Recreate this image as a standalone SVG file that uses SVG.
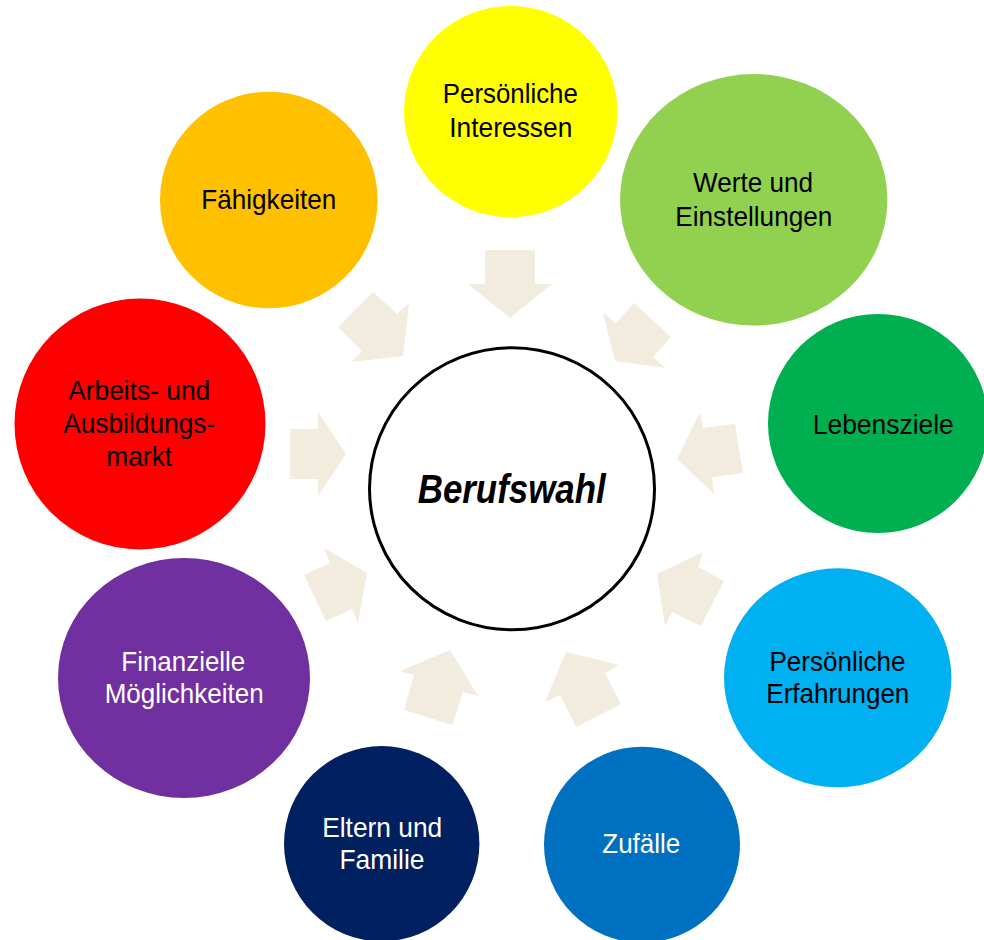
<svg xmlns="http://www.w3.org/2000/svg" width="984" height="940" viewBox="0 0 984 940">
<style>
.lbl{font-family:"Liberation Sans",Arial,sans-serif;font-size:28px;text-anchor:middle}
.dk{fill:#000}
.wt{fill:#fff}
.arr{fill:#F2ECDE}
</style>
<rect width="984" height="940" fill="#fff"/>
<g id="connectors">
<polygon class="arr" points="485,250 535,250 535,284 552,284 510,318 468,284 485,284"/>
<polygon class="arr" points="373,292 397,314 409,303 403,356 351,362 362,351 338,327"/>
<polygon class="arr" points="634,303 671,337 653,357 665,368 615,361 603,313 616,323"/>
<polygon class="arr" points="735,424 743,473 712,477 714,494 677,459 700,412 703,428"/>
<polygon class="arr" points="724,581 701,626 672,612 665,626 657,574 703,552 698,567"/>
<polygon class="arr" points="621,704 576,727 560,695 545,702 566,652 619,665 605,673"/>
<polygon class="arr" points="452,725 404,710 414,675 400,671 450,650 478,696 463,692"/>
<polygon class="arr" points="304,575 326,621 352,609 358,623 367,573 324,548 330,563"/>
<polygon class="arr" points="290,429 318,429 318,412 346,454 318,496 318,479 290,479"/>
</g>
<g id="berufswahl">
<ellipse cx="512" cy="488.7" rx="142.5" ry="141" fill="#fff" stroke="#000" stroke-width="3"/>
<text x="511.7" y="502.7" style="font-family:'Liberation Sans',Arial,sans-serif;font-size:41px;font-weight:bold;font-style:italic;text-anchor:middle" textLength="188" lengthAdjust="spacingAndGlyphs">Berufswahl</text>
</g>
<g id="interessen">
<ellipse cx="510.7" cy="111.7" rx="106.7" ry="105.7" fill="#FFFF00"/>
<text class="lbl dk" x="510.3" y="103.3" textLength="135" lengthAdjust="spacingAndGlyphs">Persönliche</text>
<text class="lbl dk" x="510.8" y="136.7" textLength="123" lengthAdjust="spacingAndGlyphs">Interessen</text>
</g>
<g id="werte">
<ellipse cx="753.7" cy="199.8" rx="133.7" ry="125.8" fill="#92D050"/>
<text class="lbl dk" x="753" y="192.3" textLength="120" lengthAdjust="spacingAndGlyphs">Werte und</text>
<text class="lbl dk" x="753.8" y="225.7" textLength="157" lengthAdjust="spacingAndGlyphs">Einstellungen</text>
</g>
<g id="lebensziele">
<ellipse cx="878" cy="423.5" rx="110" ry="109.5" fill="#00B050"/>
<text class="lbl dk" x="883.3" y="434.3" textLength="141" lengthAdjust="spacingAndGlyphs">Lebensziele</text>
</g>
<g id="erfahrungen">
<ellipse cx="837.7" cy="677.8" rx="113.7" ry="109.5" fill="#00B0F0"/>
<text class="lbl dk" x="837.5" y="671" textLength="136" lengthAdjust="spacingAndGlyphs">Persönliche</text>
<text class="lbl dk" x="837.8" y="703.3" textLength="143" lengthAdjust="spacingAndGlyphs">Erfahrungen</text>
</g>
<g id="zufaelle">
<ellipse cx="642" cy="844.7" rx="98" ry="98" fill="#0070C0"/>
<text class="lbl wt" x="641.3" y="853.3" textLength="78" lengthAdjust="spacingAndGlyphs">Zufälle</text>
</g>
<g id="eltern">
<ellipse cx="381.7" cy="843.7" rx="97.7" ry="97.7" fill="#002060"/>
<text class="lbl wt" x="382.2" y="837.3" textLength="120" lengthAdjust="spacingAndGlyphs">Eltern und</text>
<text class="lbl wt" x="382" y="869.3" textLength="85" lengthAdjust="spacingAndGlyphs">Familie</text>
</g>
<g id="finanzielle">
<ellipse cx="184" cy="678" rx="126" ry="120" fill="#7030A0"/>
<text class="lbl wt" x="183.3" y="671" textLength="124" lengthAdjust="spacingAndGlyphs">Finanzielle</text>
<text class="lbl wt" x="184.2" y="703.3" textLength="159" lengthAdjust="spacingAndGlyphs">Möglichkeiten</text>
</g>
<g id="arbeitsmarkt">
<ellipse cx="140" cy="424" rx="125.5" ry="125.5" fill="#FF0000"/>
<text class="lbl dk" x="139.2" y="400" textLength="142" lengthAdjust="spacingAndGlyphs">Arbeits- und</text>
<text class="lbl dk" x="139.2" y="433.3" textLength="152" lengthAdjust="spacingAndGlyphs">Ausbildungs-</text>
<text class="lbl dk" x="139.2" y="466" textLength="66" lengthAdjust="spacingAndGlyphs">markt</text>
</g>
<g id="faehigkeiten">
<ellipse cx="268.8" cy="200" rx="108.8" ry="108.3" fill="#FFC000"/>
<text class="lbl dk" x="268.8" y="209.3" textLength="135" lengthAdjust="spacingAndGlyphs">Fähigkeiten</text>
</g>
</svg>
